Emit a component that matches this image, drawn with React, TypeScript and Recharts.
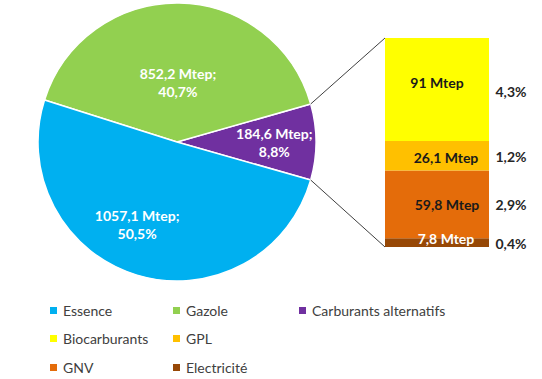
import React from 'react';
import { PieChart, Pie, Cell, BarChart, Bar, XAxis, YAxis } from 'recharts';

const W = 542;
const H = 379;

// Pie data (main categories)
const pieNames = ['Carburants alternatifs', 'Gazole', 'Essence'];
const pieValues = [184.6, 852.2, 1057.1];
const piePercents = ['8,8%', '40,7%', '50,5%'];

// Breakdown of "Carburants alternatifs"
const subNames = ['Biocarburants', 'GPL', 'GNV', 'Electricité'];
const subValues = [91, 26.1, 59.8, 7.8];
const subPercents = ['4,3%', '1,2%', '2,9%', '0,4%'];

// Legend layout (rows)
const legendRows = [
  ['Essence', 'Gazole', 'Carburants alternatifs'],
  ['Biocarburants', 'GPL'],
  ['GNV', 'Electricité'],
];

const COLORS: Record<string, string> = {
  Essence: '#00B0F0',
  Gazole: '#92D050',
  'Carburants alternatifs': '#7030A0',
  Biocarburants: '#FFFF00',
  GPL: '#FFC000',
  GNV: '#E46C0A',
  Electricité: '#974806',
};

const FONT = 'Lato, "Open Sans", sans-serif';
const RADIAN = Math.PI / 180;

// layout
const PIE_CX = 177;
const PIE_CY = 142;
const PIE_R = 139;
const BAR_LEFT = 385;
const BAR_RIGHT = 489;
const BAR_TOP = 38;
const BAR_BOTTOM = 247;

// label placement styles (polar factor / angle shift) per pie slice
const pieLabelPos = [
  { r: 0.7, shift: 0 },
  { r: 0.43, shift: 0 },
  { r: 0.66, shift: -9 },
];
// label offsets for bar segments
const subLabelStyle: Record<string, { dx: number; dy: number; color: string; pdy: number }> = {
  Biocarburants: { dx: 0, dy: -7, color: '#1a1a1a', pdy: 2 },
  GPL: { dx: 9, dy: 2, color: '#1a1a1a', pdy: 1 },
  GNV: { dx: 10, dy: 0, color: '#1a1a1a', pdy: 0 },
  Electricité: { dx: 9, dy: -4, color: '#ffffff', pdy: 1 },
};

const fmt = (v: number) => String(v).replace('.', ',');

const pieData = pieNames.map((name, i) => ({ name, value: pieValues[i], pct: piePercents[i] }));
const pieTotal = pieValues.reduce((a, b) => a + b, 0);
const altAngle = (360 * pieValues[0]) / pieTotal;
const startAngle = -altAngle / 2;

const barRow: Record<string, any> = { name: 'Carburants alternatifs' };
subNames.forEach((n, i) => (barRow[n] = subValues[i]));
const barData = [barRow];
const subTotal = subValues.reduce((a, b) => a + b, 0);

const renderPieLabel = (props: any) => {
  const { cx, cy, midAngle, outerRadius, index } = props;
  const pos = pieLabelPos[index];
  const ang = (midAngle + pos.shift) * RADIAN;
  const x = cx + outerRadius * pos.r * Math.cos(-ang);
  const y = cy + outerRadius * pos.r * Math.sin(-ang);
  const d = pieData[index];
  const els: any[] = [];
  if (index === 0) {
    const sa = props.startAngle * RADIAN;
    const ea = props.endAngle * RADIAN;
    const x1 = cx + outerRadius * Math.cos(-ea);
    const y1 = cy + outerRadius * Math.sin(-ea);
    const x2 = cx + outerRadius * Math.cos(-sa);
    const y2 = cy + outerRadius * Math.sin(-sa);
    els.push(<line key="l1" x1={x1} y1={y1} x2={BAR_LEFT} y2={BAR_TOP} stroke="#404040" strokeWidth={1} />);
    els.push(<line key="l2" x1={x2} y1={y2} x2={BAR_LEFT} y2={BAR_BOTTOM} stroke="#404040" strokeWidth={1} />);
  }
  return (
    <g key={`pl-${index}`}>
      {els}
      <text x={x} y={y - 9} textAnchor="middle" dominantBaseline="central" fill="#ffffff" fontFamily={FONT} fontWeight={700} fontSize={14}>
        {`${fmt(d.value)} Mtep;`}
      </text>
      <text x={x} y={y + 9} textAnchor="middle" dominantBaseline="central" fill="#ffffff" fontFamily={FONT} fontWeight={700} fontSize={14}>
        {d.pct}
      </text>
    </g>
  );
};

const makeBarLabel = (name: string, i: number) => (props: any) => {
  const vb = props.viewBox || {};
  const x = Number(props.x ?? vb.x);
  const y = Number(props.y ?? vb.y);
  const width = Number(props.width ?? vb.width);
  const height = Number(props.height ?? vb.height);
  const st = subLabelStyle[name];
  const cxp = x + width / 2;
  const cyp = y + height / 2;
  return (
    <g key={`bl-${name}`}>
      <text x={cxp + st.dx} y={cyp + st.dy} textAnchor="middle" dominantBaseline="central" fill={st.color} fontFamily={FONT} fontWeight={700} fontSize={14}>
        {`${fmt(subValues[i])} Mtep`}
      </text>
      <text x={x + width + 22} y={cyp + st.pdy} textAnchor="middle" dominantBaseline="central" fill="#262626" fontFamily={FONT} fontWeight={700} fontSize={14}>
        {subPercents[i]}
      </text>
    </g>
  );
};

const legendCols = [50, 173, 299];
const legendRowY = [310, 338, 367];

export default function App() {
  return (
    <div style={{ position: 'absolute', left: 0, top: 0, width: W, height: H, background: '#ffffff', fontFamily: FONT }}>
      <div style={{ position: 'absolute', left: 0, top: 0 }}>
        <PieChart width={W} height={H} margin={{ top: 0, right: 0, bottom: 0, left: 0 }}>
          <Pie
            data={pieData}
            dataKey="value"
            nameKey="name"
            cx={PIE_CX}
            cy={PIE_CY}
            outerRadius={PIE_R}
            startAngle={startAngle}
            endAngle={startAngle + 360}
            stroke="#ffffff"
            strokeWidth={1.5}
            label={renderPieLabel}
            labelLine={false}
            isAnimationActive={false}
          >
            {pieData.map((d) => (
              <Cell key={d.name} fill={COLORS[d.name]} />
            ))}
          </Pie>
        </PieChart>
      </div>
      <div style={{ position: 'absolute', left: 0, top: 0 }}>
        <BarChart
          width={W}
          height={H}
          data={barData}
          margin={{ top: BAR_TOP, bottom: H - BAR_BOTTOM, left: BAR_LEFT, right: W - BAR_RIGHT }}
          barCategoryGap={0}
          barGap={0}
        >
          <XAxis dataKey="name" type="category" hide />
          <YAxis type="number" domain={[0, subTotal]} hide allowDataOverflow />
          {[...subNames].reverse().map((n) => {
            const i = subNames.indexOf(n);
            return (
              <Bar key={n} dataKey={n} stackId="a" fill={COLORS[n]} isAnimationActive={false} label={makeBarLabel(n, i)} />
            );
          })}
        </BarChart>
      </div>
      {legendRows.map((row, ri) =>
        row.map((name, ci) => (
          <div
            key={name}
            style={{
              position: 'absolute',
              left: legendCols[ci],
              top: legendRowY[ri] - 10,
              height: 20,
              display: 'flex',
              alignItems: 'center',
              whiteSpace: 'nowrap',
            }}
          >
            <span style={{ display: 'inline-block', width: 7, height: 7, background: COLORS[name], marginRight: 6 }} />
            <span style={{ fontSize: 14, color: '#404040', fontFamily: FONT }}>{name}</span>
          </div>
        ))
      )}
    </div>
  );
}
